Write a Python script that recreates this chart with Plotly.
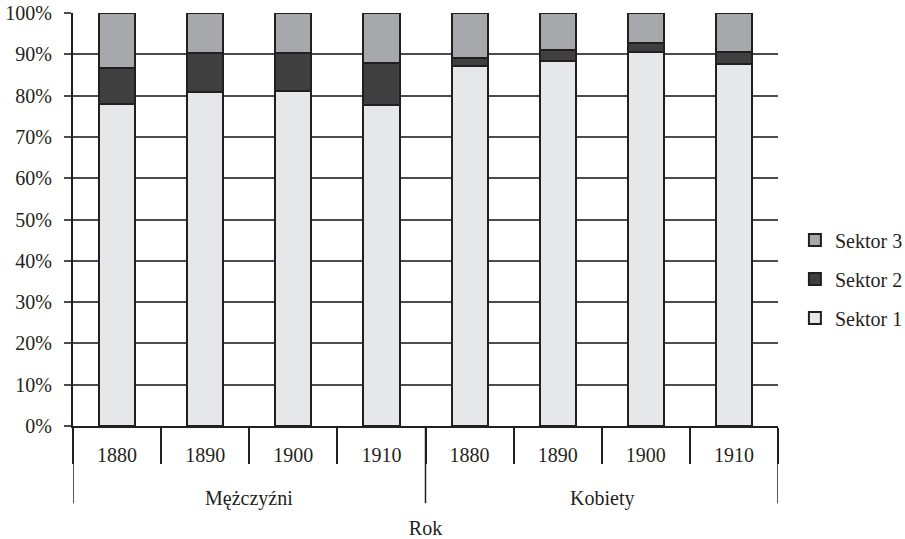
import plotly.graph_objects as go

groups = ["Mężczyźni"] * 4 + ["Kobiety"] * 4
years = ["1880", "1890", "1900", "1910", "1880", "1890", "1900", "1910"]
sektor1 = [78.0, 80.9, 81.2, 77.7, 87.2, 88.4, 90.6, 87.7]
sektor2 = [8.7, 9.5, 9.2, 10.3, 2.0, 2.6, 2.2, 2.9]
sektor3 = [round(100 - a - b, 1) for a, b in zip(sektor1, sektor2)]
series_names = ["Sektor 1", "Sektor 2", "Sektor 3"]
colors = ["#e6e7e9", "#404041", "#a7a8ab"]
y_ticks = list(range(0, 101, 10))
y_labels = [f"{v}%" for v in y_ticks]

font = "Liberation Serif, Times New Roman, serif"
ink = "#231f20"

pos = list(range(len(years)))

fig = go.Figure()
for i, (name, vals, col) in enumerate(zip(series_names, [sektor1, sektor2, sektor3], colors)):
    fig.add_trace(go.Bar(
        x=pos, y=vals, name=name, legendgroup=name, legendrank=100 - i,
        marker=dict(color=col, line=dict(color=ink, width=2)),
        width=0.41,
    ))

# group dividers and labels (derived from category positions)
group_names = []
for g in groups:
    if g not in group_names:
        group_names.append(g)
shapes = []
annotations = []
bounds = [-0.5]
for g in group_names:
    idx = [i for i, gg in enumerate(groups) if gg == g]
    bounds.append(max(idx) + 0.5)
    annotations.append(dict(x=sum(idx) / len(idx), y=-0.175, xref="x", yref="paper",
                            text=g, showarrow=False, yanchor="middle",
                            font=dict(size=20, family=font, color=ink)))
for b in bounds:
    shapes.append(dict(type="line", xref="x", yref="paper", x0=b, x1=b, y0=0, y1=-0.187,
                       line=dict(color=ink, width=1.5)))

fig.update_layout(
    barmode="stack",
    width=905, height=539,
    margin=dict(l=73, r=127, t=13, b=113, autoexpand=False),
    plot_bgcolor="white", paper_bgcolor="white",
    font=dict(family=font, size=20, color=ink),
    showlegend=True,
    legend=dict(tracegroupgap=10,
                x=1.024, xanchor="left", y=0.356, yanchor="middle",
                font=dict(size=20), itemwidth=30),
    shapes=shapes,
    annotations=annotations,
    xaxis=dict(
        range=[-0.5, len(years) - 0.5],
        tickvals=pos, ticktext=years,
        ticks="outside", ticklen=10, tickcolor="rgba(0,0,0,0)",
        minor=dict(tick0=-0.5, dtick=1, ticks="outside", ticklen=36,
                   tickcolor=ink, tickwidth=1.5, showgrid=False),
        showline=True, linecolor=ink, linewidth=2,
        title=dict(text="Rok", font=dict(size=20), standoff=56),
        showgrid=False, zeroline=False, automargin=False,
    ),
    yaxis=dict(
        range=[0, 100], tickvals=y_ticks, ticktext=y_labels,
        showgrid=True, gridcolor="#4d4d4f", gridwidth=1.5,
        ticks="outside", ticklen=7, tickcolor="#4d4d4f", tickwidth=1.5,
        ticklabelstandoff=8, ticklabeloverflow="allow",
        showline=True, linecolor=ink, linewidth=2,
        zeroline=False, automargin=False,
    ),
)
fig.write_html(
    "out.html",
    config={"displayModeBar": False, "responsive": False},
    post_script="document.body.style.margin='0';document.body.style.overflow='hidden';"
                "document.documentElement.style.overflow='hidden';",
)
